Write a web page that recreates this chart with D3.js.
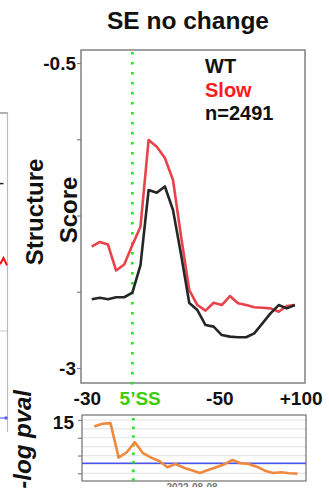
<!DOCTYPE html>
<html>
<head>
<meta charset="utf-8">
<script src="https://cdn.jsdelivr.net/npm/d3@7"></script>
<style>
  html, body { margin: 0; padding: 0; background: #fff; }
  svg { display: block; }
  text { font-family: "Liberation Sans", Arial, sans-serif; font-weight: bold; }
</style>
</head>
<body>
<svg id="chart" width="329" height="495"></svg>
<script>
// ---------- data ----------
const title = "SE no change";
const positions = d3.range(26);               // bin index along the transcript window
const wtScore = [-2.437, -2.424, -2.437, -2.420, -2.420, -2.383, -2.156, -1.541, -1.563, -1.512,
                 -1.705, -2.074, -2.467, -2.525, -2.648, -2.661, -2.730, -2.743, -2.748, -2.748,
                 -2.716, -2.634, -2.552, -2.484, -2.511, -2.484];
const slowScore = [-2.006, -1.967, -1.988, -2.201, -2.152, -1.992, -1.842, -1.131, -1.186, -1.279,
                   -1.459, -1.926, -2.361, -2.484, -2.530, -2.465, -2.484, -2.410, -2.470, -2.484,
                   -2.502, -2.506, -2.511, -2.539, -2.492, -2.484];
const logPval = [13.16, 13.93, 14.12, 4.41, 5.93, 8.76, 5.65, 4.41, 3.47, 1.70,
                 2.63, 1.58, 0.85, 0.08, 0.93, 1.70, 2.54, 3.76, 2.83, 2.63,
                 1.86, 0.73, 0.08, 0.28, 0.0, -0.1];
const pvalThreshold = 2.8;
const splicePos = 5;                           // 5'SS bin
const xTickPos = [-0.6, 5.9, 15.7, 25.7];
const xTickLabels = ["-30", "5\u2019SS", "-50", "+100"];
const yTicks = [-0.5, -1.125, -1.75, -2.375, -3];
const yTickLabels = ["-0.5", "", "", "", "-3"];
const pGrid = [15, 12.5, 10, 7.5, 5, 2.5, 0];
const pTicks = [15, 10, 5, 0];
const pTickLabels = ["15", "", "", ""];
const legendLabels = ["WT", "Slow", "n=2491"];
const stampText = "2022-08-08";
// last visible values of the neighbouring panel (cut off at the left edge)
const neighbourWT = [-1.4, -1.4];
const neighbourSlow = [-2.05, -2.0, -2.06];
const neighbourPval = [2.8, 2.8];

// ---------- layout ----------
const svg = d3.select("#chart");
const main = { l: 81, r: 305, t: 50, b: 383 };
const low = { l: 82, r: 306, t: 415, b: 481 };
const gray = "#808080";
const red = "#e8434b", black = "#262626", green = "#1ee61e";

// scales
const x = d3.scaleLinear().domain([-1.32, 26.24]).range([main.l, main.r]);
const xLow = d3.scaleLinear().domain([-1.32, 26.24]).range([low.l, low.r]);
const y = d3.scaleLinear().domain([-3, -0.5]).range([368, 63]);
const yP = d3.scaleLinear().domain([0, 15]).range([473.3, 420]);
// neighbour panel scales (only its right edge is visible)
const xN = d3.scaleLinear().domain([0, 2]).range([0, 7]);
const yN = d3.scaleLinear().domain([-3, -0.5]).range([382, 72]);
const yNP = d3.scaleLinear().domain([0, 15]).range([418 + 2.8 * 3.6, 418 - 12.2 * 3.6]);

// ---------- neighbour panel fragment (left edge) ----------
svg.append("line").attr("x1", 0).attr("x2", 8).attr("y1", 113).attr("y2", 113)
  .attr("stroke", "#999").attr("stroke-width", 1.5);
svg.append("line").attr("x1", 7.5).attr("x2", 7.5).attr("y1", 113).attr("y2", 432)
  .attr("stroke", "#bbb").attr("stroke-width", 1.2);
svg.append("line").attr("x1", 0).attr("x2", 7).attr("y1", 331).attr("y2", 331)
  .attr("stroke", "#ccc").attr("stroke-width", 1);
const nLine = yS => d3.line().x((d, i) => xN(i)).y(d => yS(d));
svg.append("path").datum(neighbourSlow).attr("d", nLine(yN)).attr("fill", "none")
  .attr("stroke", "#f01010").attr("stroke-width", 2);
svg.append("path").datum(neighbourWT).attr("d", nLine(yN)).attr("fill", "none")
  .attr("stroke", "#222").attr("stroke-width", 1.5);
svg.append("path").datum(neighbourPval).attr("d", d3.line().x((d, i) => i * 7).y(d => yNP(d)))
  .attr("fill", "none").attr("stroke", "#5a66f0").attr("stroke-width", 1.2);
svg.append("circle").attr("cx", 6).attr("cy", yNP(neighbourPval[1])).attr("r", 1.8).attr("fill", "#5a66f0");

// ---------- title ----------
svg.append("text").attr("x", 188).attr("y", 29).attr("text-anchor", "middle")
  .attr("font-size", 24.5).attr("fill", "#111").text(title);

// ---------- main panel ----------
svg.append("rect").attr("x", main.l).attr("y", main.t)
  .attr("width", main.r - main.l).attr("height", main.b - main.t)
  .attr("fill", "none").attr("stroke", gray).attr("stroke-width", 1.5);

const yAxis = d3.axisLeft(y).tickValues(yTicks).tickSize(4)
  .tickFormat((d, i) => yTickLabels[i]);
const gy = svg.append("g").attr("transform", `translate(${main.l},0)`).call(yAxis);
gy.select(".domain").remove();
gy.selectAll(".tick line").attr("stroke", gray).attr("stroke-width", 1.2);
gy.selectAll(".tick text").attr("font-size", 19).attr("fill", "#111")
  .attr("x", -5).attr("font-family", "Liberation Sans, Arial, sans-serif").attr("font-weight", "bold");

// splice site dotted line
svg.append("line").attr("x1", x(splicePos)).attr("x2", x(splicePos))
  .attr("y1", main.t + 2).attr("y2", main.b + 3)
  .attr("stroke", green).attr("stroke-width", 2.6).attr("stroke-dasharray", "2.6,7.4");

const line = d3.line().x((d, i) => x(positions[i])).y(d => y(d));
svg.append("path").datum(slowScore).attr("d", line).attr("fill", "none")
  .attr("stroke", red).attr("stroke-width", 2.6).attr("stroke-linejoin", "round");
svg.append("path").datum(wtScore).attr("d", line).attr("fill", "none")
  .attr("stroke", black).attr("stroke-width", 2.6).attr("stroke-linejoin", "round");

// legend
const legendColors = ["#111", "#ff1a1a", "#111"];
svg.selectAll("text.legend").data(legendLabels).join("text").attr("class", "legend")
  .attr("x", 205).attr("y", (d, i) => 73 + i * 23.5)
  .attr("font-size", 20).attr("fill", (d, i) => legendColors[i]).text(d => d);

// x tick labels
const xAxis = d3.axisBottom(x).tickValues(xTickPos).tickSize(0)
  .tickFormat((d, i) => xTickLabels[i]);
const gx = svg.append("g").attr("transform", `translate(0,${main.b})`).call(xAxis);
gx.select(".domain").remove();
gx.selectAll(".tick text").attr("font-size", 19).attr("dy", 0).attr("y", 22)
  .attr("font-family", "Liberation Sans, Arial, sans-serif").attr("font-weight", "bold")
  .attr("fill", (d, i) => i === 1 ? "#3ccc0a" : "#111");

// y axis title (two lines)
svg.append("text").attr("transform", "translate(43,212) rotate(-90)")
  .attr("text-anchor", "middle").attr("font-size", 24).attr("fill", "#111").text("Structure");
svg.append("text").attr("transform", "translate(77,210) rotate(-90)")
  .attr("text-anchor", "middle").attr("font-size", 24).attr("fill", "#111").text("Score");

// ---------- lower p-value panel ----------
svg.selectAll("line.pgrid").data(pGrid).join("line").attr("class", "pgrid")
  .attr("x1", low.l).attr("x2", low.r).attr("y1", d => yP(d)).attr("y2", d => yP(d))
  .attr("stroke", "#e6e6e6").attr("stroke-width", 1.2);

svg.append("rect").attr("x", low.l).attr("y", low.t)
  .attr("width", low.r - low.l).attr("height", low.b - low.t)
  .attr("fill", "none").attr("stroke", "#707070").attr("stroke-width", 1.2);

const pAxis = d3.axisLeft(yP).tickValues(pTicks).tickSize(4)
  .tickFormat((d, i) => pTickLabels[i]);
const gp = svg.append("g").attr("transform", `translate(${low.l},0)`).call(pAxis);
gp.select(".domain").remove();
gp.selectAll(".tick line").attr("stroke", gray).attr("stroke-width", 1.2);
gp.selectAll(".tick text").attr("font-size", 19).attr("fill", "#111").attr("x", -8).attr("dy", "0.45em")
  .attr("font-family", "Liberation Sans, Arial, sans-serif").attr("font-weight", "bold");

svg.append("line").attr("x1", low.l).attr("x2", low.r)
  .attr("y1", yP(pvalThreshold)).attr("y2", yP(pvalThreshold))
  .attr("stroke", "#4a55f0").attr("stroke-width", 1.5);

svg.append("line").attr("x1", xLow(splicePos)).attr("x2", xLow(splicePos))
  .attr("y1", low.t + 3).attr("y2", low.b)
  .attr("stroke", green).attr("stroke-width", 2.6).attr("stroke-dasharray", "2.6,6");

const pLine = d3.line().x((d, i) => xLow(positions[i]) + 1.5).y(d => yP(d));
svg.append("path").datum(logPval).attr("d", pLine).attr("fill", "none")
  .attr("stroke", "#f0883e").attr("stroke-width", 2.6).attr("stroke-linejoin", "round");

// clipped date stamp below the lower panel
svg.append("clipPath").attr("id", "stampClip").append("rect")
  .attr("x", 0).attr("y", 482).attr("width", 329).attr("height", 5);
svg.append("text").attr("x", 192).attr("y", 491).attr("text-anchor", "middle")
  .attr("font-size", 10).attr("font-weight", "normal").attr("fill", "#777")
  .attr("clip-path", "url(#stampClip)").text(stampText);

// lower panel axis title
svg.append("text").attr("transform", "translate(31,390) rotate(-90)")
  .attr("text-anchor", "end").attr("font-size", 24).attr("font-style", "italic")
  .attr("fill", "#111").text("-log pval");
</script>
</body>
</html>
